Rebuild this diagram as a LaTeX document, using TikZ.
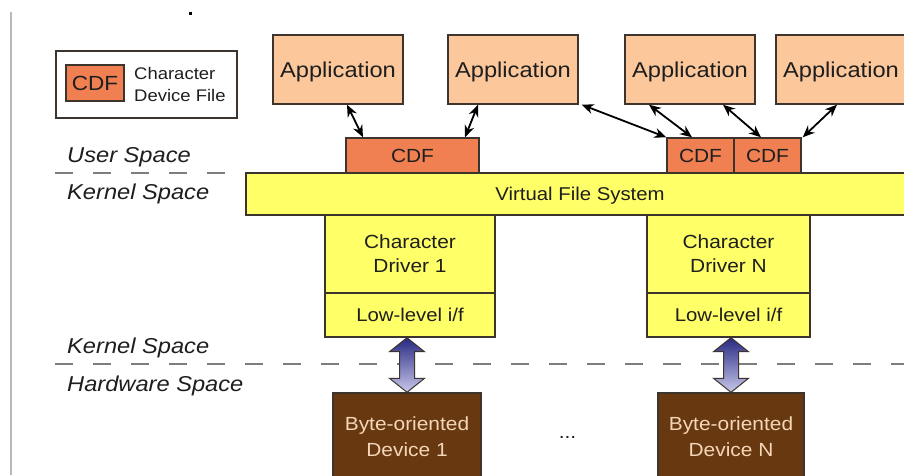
\documentclass[tikz,border=0pt]{standalone}
\usepackage{fontspec}
\setmainfont{Liberation Sans}[FakeStretch=1.1]
\usetikzlibrary{arrows.meta,calc}
\definecolor{appfill}{RGB}{252,200,155}
\definecolor{cdffill}{RGB}{240,128,82}
\definecolor{yel}{RGB}{255,255,104}
\definecolor{devfill}{RGB}{104,56,16}
\definecolor{devtext}{RGB}{244,214,184}
\definecolor{edge}{RGB}{60,52,45}
\definecolor{txt}{RGB}{30,30,30}
\definecolor{dashc}{RGB}{125,125,125}
\definecolor{bluetop}{RGB}{40,40,130}
\definecolor{bluemid}{RGB}{105,105,190}
\definecolor{bluebot}{RGB}{200,200,235}
\newcommand\fsz[2]{\fontsize{#1}{#2}\selectfont}
\begin{document}
\begin{tikzpicture}[x=1pt,y=-1pt,
  box/.style={draw=edge, line width=1.4pt, inner sep=0pt, text=txt, align=center},
  appbox/.style={box, fill=appfill, minimum width=130, minimum height=69, text depth=0pt, font=\fsz{21.5}{25}},
  cdfbox/.style={box, fill=cdffill, minimum height=35, text depth=0pt, font=\fsz{19}{23}},
  yelbox/.style={box, fill=yel},
  devbox/.style={box, fill=devfill, text=devtext, minimum height=87, font=\fsz{19}{26}},
  lab/.style={inner sep=0pt, text=txt, anchor=base west, font=\itshape\fsz{21.5}{25}},
  smallarrow/.style={line width=1.8pt, {Stealth[length=12pt,width=10pt]}-{Stealth[length=12pt,width=10pt]}},
  bigarrow/.style={draw=edge, line width=1pt, top color=bluetop, middle color=bluemid, bottom color=bluebot},
  dashline/.style={draw=dashc, line width=1.3pt, dash pattern=on 18pt off 20pt}
]
\useasboundingbox (0,0) rectangle (904,475);
\clip (0,0) rectangle (904,475);
\fill[white] (0,0) rectangle (904,475);
\draw[gray!55, line width=1.5pt] (11,12) -- (11,475);
\fill[black] (189,11.5) rectangle (192,14.5);

% separators
\coordinate (d1a) at (55,173);
\coordinate (d1b) at (904,173);
\coordinate (d2a) at (55,364);
\coordinate (d2b) at (904,364);
\draw[dashline] (d1a) -- (d1b);
\draw[dashline] (d2a) -- (d2b);

% legend
\node[draw=edge, line width=1.2pt, fill=white, minimum width=181, minimum height=67, inner sep=0pt] (legend) at (146.5,84.5) {};
\node[cdfbox, minimum width=58, minimum height=36, font=\fsz{20.5}{24}] (legcdf) at (95,83) {CDF};
\node[inner sep=0pt, anchor=west, align=left, text=txt, font=\fsz{16.8}{22}] (legtxt) at (134,84) {Character\\Device File};

% space labels
\node[lab] (us) at (67,162) {User Space};
\node[lab] (ks1) at (67,199) {Kernel Space};
\node[lab] (ks2) at (67,353) {Kernel Space};
\node[lab] (hs) at (67,391) {Hardware Space};

% applications
\node[appbox] (app1) at (338,69.5) {Application};
\node[appbox] (app2) at (513,69.5) {Application};
\node[appbox] (app3) at (690,69.5) {Application};
\node[appbox] (app4) at (841,69.5) {Application};

% VFS
\node[yelbox, minimum width=668, minimum height=42, text depth=0pt, font=\fsz{18.5}{22}] (vfs) at (580,194) {Virtual File System};

% CDFs
\node[cdfbox, minimum width=133] (cdf1) at (412.5,155.5) {CDF};
\node[cdfbox, minimum width=67] (cdf2) at (700.5,155.5) {CDF};
\node[cdfbox, minimum width=67] (cdf3) at (767.5,155.5) {CDF};

% drivers
\node[yelbox, minimum width=170, minimum height=78, font=\fsz{19}{24}] (drv1) at (410,254) {Character\\Driver 1};
\node[yelbox, minimum width=170, minimum height=44, text depth=0pt, font=\fsz{18.5}{22}] (low1) at (410,315) {Low-level i/f};
\node[yelbox, minimum width=163, minimum height=78, font=\fsz{19}{24}] (drvN) at (728.5,254) {Character\\Driver N};
\node[yelbox, minimum width=163, minimum height=44, text depth=0pt, font=\fsz{18.5}{22}] (lowN) at (728.5,315) {Low-level i/f};

% devices
\node[devbox, minimum width=148] (dev1) at (407,436.5) {Byte-oriented\\Device 1};
\node[devbox, minimum width=146] (devN) at (731,436.5) {Byte-oriented\\Device N};
\node[inner sep=0pt, anchor=base, text=txt, font=\fsz{19}{22}] (dots) at (567.5,438) {...};

% small arrows
\draw[smallarrow] ([xshift=9pt]app1.south) -- ([xshift=-49.5pt]cdf1.north);
\draw[smallarrow] ([xshift=-35pt]app2.south) -- ([xshift=52.5pt]cdf1.north);
\draw[smallarrow] ([xshift=3pt]app2.south east) -- (cdf2.north west);
\draw[smallarrow] ([xshift=-41pt]app3.south) -- ([xshift=-8.5pt]cdf2.north);
\draw[smallarrow] ([xshift=33pt]app3.south) -- ([xshift=-6.5pt]cdf3.north);
\draw[smallarrow] ([xshift=-4pt]app4.south) -- ([xshift=1pt]cdf3.north east);

% big double arrows
\coordinate (t1) at (dev1.north |- low1.south);
\coordinate (b1) at (dev1.north);
\coordinate (tN) at (devN.north |- lowN.south);
\coordinate (bN) at (devN.north);
\foreach \T/\B in {t1/b1,tN/bN}{
  \path[bigarrow] (\T) -- ($(\T)+(17.5,14)$) -- ($(\T)+(7.5,14)$) -- ($(\B)+(7.5,-14)$) -- ($(\B)+(17.5,-14)$) -- (\B)
    -- ($(\B)+(-17.5,-14)$) -- ($(\B)+(-7.5,-14)$) -- ($(\T)+(-7.5,14)$) -- ($(\T)+(-17.5,14)$) -- cycle;
}
\end{tikzpicture}
\end{document}
